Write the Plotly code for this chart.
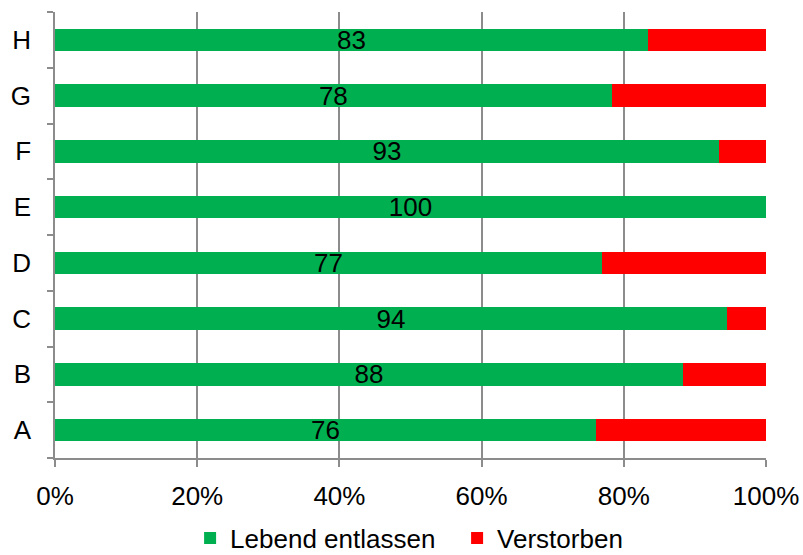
import plotly.graph_objects as go

categories = ["A", "B", "C", "D", "E", "F", "G", "H"]
lebend = [76.1, 88.3, 94.5, 76.9, 100.0, 93.4, 78.3, 83.4]
verstorben = [23.9, 11.7, 5.5, 23.1, 0.0, 6.6, 21.7, 16.6]
lebend_labels = ["76", "88", "94", "77", "100", "93", "78", "83"]
x_ticks = [0, 20, 40, 60, 80, 100]
x_tick_labels = ["0%", "20%", "40%", "60%", "80%", "100%"]

FONT = "Liberation Sans, Arial, sans-serif"
FS = 26
GRID = "#8C8C8C"

fig = go.Figure()
fig.add_trace(go.Bar(
    y=categories, x=lebend, orientation="h", name="Lebend entlassen",
    marker=dict(color="#00B050", line=dict(width=0)),
    text=lebend_labels, textposition="inside", insidetextanchor="middle",
    textangle=0, textfont=dict(family=FONT, size=FS, color="#000000"),
))
fig.add_trace(go.Bar(
    y=categories, x=verstorben, orientation="h", name="Verstorben",
    marker=dict(color="#FF0000", line=dict(width=0)),
))

fig.update_layout(
    barmode="stack", bargap=0.6,
    width=803, height=555,
    margin=dict(l=55, r=37, t=12, b=97, autoexpand=False),
    paper_bgcolor="white", plot_bgcolor="white",
    font=dict(family=FONT, size=FS, color="#000000"),
    uniformtext=dict(minsize=FS, mode="show"),
    legend=dict(orientation="h", x=0.19, xanchor="left", y=-0.127, yanchor="top",
                font=dict(family=FONT, size=FS), traceorder="normal",
                entrywidth=222, entrywidthmode="pixels"),
    showlegend=True,
)
fig.update_xaxes(
    range=[0, 100], tickvals=x_ticks, ticktext=x_tick_labels,
    showgrid=True, gridcolor=GRID, gridwidth=1.5,
    showline=True, linecolor=GRID, linewidth=1.5,
    ticks="outside", ticklen=7, tickcolor=GRID, tickwidth=1.5,
    zeroline=False, tickfont=dict(family=FONT, size=FS),
    automargin=False, ticklabelstandoff=7,
)
fig.update_yaxes(
    type="category", categoryorder="array", categoryarray=categories,
    showgrid=False, showline=True, linecolor=GRID, linewidth=1.5,
    ticks="outside", ticklen=6, tickcolor=GRID, tickwidth=1.5,
    tickson="boundaries", tickfont=dict(family=FONT, size=FS),
    ticklabelstandoff=17, automargin=False,
)

fig.write_html("out.html")
